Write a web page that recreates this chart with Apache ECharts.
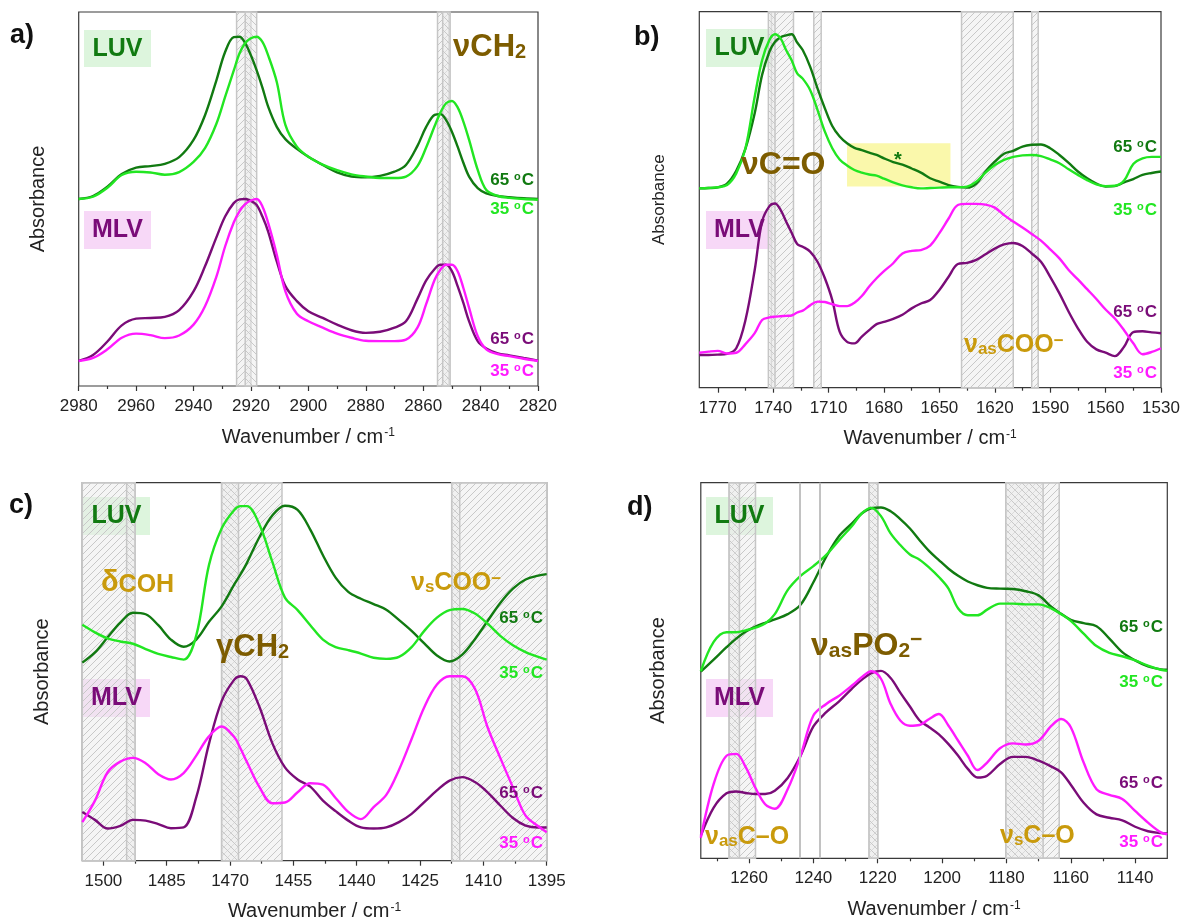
<!DOCTYPE html>
<html>
<head>
<meta charset="utf-8">
<script src="https://cdn.jsdelivr.net/npm/echarts@6.0.0/dist/echarts.min.js"></script>
<style>
  html, body { margin: 0; padding: 0; background: #fff; }
  #chart { width: 1183px; height: 923px; }
</style>
</head>
<body>
<div id="chart"></div>
<script>
// ---- a) CH2 stretching region ----
const waveA = [2980, 2975, 2970, 2965, 2960, 2955, 2950, 2945, 2940, 2936, 2932, 2929, 2926, 2924, 2922, 2920, 2918, 2916, 2914, 2911, 2908, 2904, 2900, 2895, 2890, 2885, 2880, 2875, 2870, 2866, 2862, 2859, 2856, 2854, 2852, 2850, 2848, 2846, 2844, 2841, 2838, 2834, 2830, 2825, 2820];
const luv65A = [50.0, 50.8, 53.3, 56.7, 58.4, 58.8, 59.4, 61.2, 65.8, 72.4, 81.8, 89.3, 93.3, 93.4, 91.7, 88.4, 84.4, 79.8, 74.7, 69.3, 66.0, 63.4, 61.3, 59.1, 57.1, 56.0, 55.8, 56.2, 57.3, 59.1, 64.2, 69.2, 72.5, 72.7, 71.1, 68.0, 64.0, 59.7, 56.0, 52.9, 51.5, 50.8, 50.5, 50.2, 50.0];
const luv35A = [50.0, 50.6, 53.0, 56.4, 57.3, 57.1, 56.5, 57.2, 59.9, 63.6, 70.2, 77.3, 84.3, 88.9, 91.7, 93.0, 93.4, 92.0, 88.4, 81.3, 69.8, 64.0, 61.3, 59.2, 57.7, 56.6, 56.0, 55.6, 55.6, 56.0, 58.8, 63.7, 69.5, 73.1, 75.6, 76.2, 74.5, 70.7, 65.8, 57.8, 52.4, 50.8, 50.3, 50.0, 49.8];
const mlv65A = [6.7, 8.3, 11.9, 16.2, 18.0, 18.2, 18.5, 20.3, 25.3, 32.0, 39.8, 45.3, 48.9, 49.9, 50.0, 49.5, 48.4, 45.3, 41.3, 33.3, 26.7, 22.7, 20.0, 18.2, 16.4, 14.9, 14.2, 14.5, 15.6, 17.3, 23.3, 28.2, 31.3, 32.4, 32.4, 30.7, 26.7, 22.2, 17.3, 12.0, 10.0, 8.7, 8.2, 7.5, 6.8];
const mlv35A = [6.7, 7.5, 9.8, 12.9, 14.0, 13.6, 12.8, 13.5, 16.4, 21.3, 29.3, 37.3, 43.7, 46.7, 48.6, 49.6, 50.0, 48.0, 43.6, 35.1, 25.3, 19.3, 17.3, 15.6, 14.0, 12.9, 12.1, 12.0, 12.0, 12.4, 15.6, 21.8, 28.4, 31.1, 32.4, 32.4, 30.7, 26.2, 20.9, 13.3, 9.8, 8.5, 8.0, 7.3, 6.7];
const ticksA = [2980, 2960, 2940, 2920, 2900, 2880, 2860, 2840, 2820];
const minorA = [2970, 2950, 2930, 2910, 2890, 2870, 2850, 2830];
const bandsA = [[2925, 2920], [2855, 2851]];
const crossA = [[2922, 2918], [2853.2, 2850.6]];

// ---- b) C=O / COO- region ----
const waveB = [1780, 1775, 1770, 1765, 1760, 1755, 1750, 1746, 1742, 1739, 1736, 1733, 1730, 1727, 1724, 1720, 1716, 1712, 1708, 1704, 1700, 1696, 1692, 1688, 1684, 1680, 1675, 1670, 1665, 1660, 1655, 1650, 1645, 1640, 1635, 1630, 1625, 1620, 1615, 1610, 1605, 1600, 1595, 1590, 1585, 1580, 1575, 1570, 1565, 1560, 1555, 1550, 1545, 1540, 1535, 1530];
const luv65B = [53.0, 53.1, 53.3, 54.3, 57.7, 63.6, 73.0, 83.2, 89.4, 92.0, 93.2, 93.7, 94.0, 91.8, 89.8, 85.4, 79.6, 74.3, 69.6, 66.8, 65.0, 63.8, 63.2, 62.5, 61.9, 61.0, 60.0, 59.3, 58.3, 57.2, 55.7, 54.8, 53.9, 53.4, 53.2, 54.3, 57.5, 60.1, 62.2, 63.0, 64.1, 64.6, 64.7, 63.7, 61.9, 59.8, 57.5, 55.7, 54.3, 53.5, 53.6, 54.6, 55.5, 56.6, 57.1, 57.5];
const luv35B = [53.0, 53.1, 53.3, 53.9, 57.0, 63.7, 77.4, 87.1, 92.5, 94.0, 92.9, 89.8, 87.1, 83.6, 82.2, 79.2, 73.9, 68.1, 63.7, 60.7, 59.1, 57.9, 57.2, 56.7, 56.4, 55.6, 54.6, 53.8, 53.3, 53.0, 53.1, 53.2, 53.3, 53.3, 53.5, 54.8, 57.2, 59.2, 60.6, 61.4, 61.8, 61.9, 61.6, 60.7, 59.7, 58.1, 56.6, 55.2, 54.1, 53.6, 53.7, 55.1, 59.5, 61.0, 61.4, 61.4];
const mlv65B = [8.7, 8.7, 8.8, 9.0, 10.5, 18.0, 31.3, 44.2, 48.3, 49.0, 47.3, 44.2, 41.2, 38.2, 37.5, 36.2, 33.5, 29.1, 23.3, 14.9, 12.2, 11.8, 13.6, 15.3, 16.9, 17.5, 18.3, 19.4, 21.1, 22.4, 23.3, 26.0, 29.5, 32.9, 33.2, 34.0, 35.5, 37.0, 38.1, 38.5, 37.7, 35.7, 33.5, 29.5, 25.1, 20.2, 15.8, 12.2, 10.2, 9.3, 8.4, 10.9, 14.8, 15.0, 14.7, 14.5];
const mlv35B = [9.3, 9.6, 9.8, 9.1, 9.3, 11.6, 14.5, 18.0, 18.7, 18.9, 19.0, 19.1, 19.2, 20.0, 20.5, 21.9, 22.9, 22.8, 22.2, 21.7, 21.7, 22.6, 24.4, 26.9, 29.1, 31.0, 33.1, 35.7, 36.4, 36.6, 37.8, 41.1, 45.0, 48.6, 48.9, 48.9, 48.7, 47.9, 45.9, 44.2, 42.6, 40.9, 39.1, 36.8, 34.4, 31.3, 28.8, 26.2, 23.6, 20.8, 18.4, 15.3, 11.8, 8.9, 9.5, 10.5];
const ticksB = [1770, 1740, 1710, 1680, 1650, 1620, 1590, 1560, 1530];
const minorB = [1755, 1725, 1695, 1665, 1635, 1605, 1575, 1545];
const bandsB = [[1741, 1729], [1718, 1714], [1638, 1610], [1600, 1596.5]];
const crossB = [[1742.6, 1739]];
const yellowB = [[1700, 53.5], [1644, 65]];

// ---- c) CH2 bending region ----
const waveC = [1505, 1502, 1499, 1496, 1493, 1490, 1487, 1484, 1481, 1478, 1475, 1472, 1469, 1467.5, 1466, 1463, 1460, 1457, 1454, 1451, 1448, 1445, 1442, 1439, 1436, 1433, 1430, 1427, 1424, 1421, 1418, 1415, 1412, 1409, 1406, 1403, 1400, 1397, 1395];
const luv65C = [52.4, 55.1, 59.1, 63.0, 65.6, 65.2, 62.3, 58.5, 56.6, 58.5, 63.2, 67.3, 73.1, 75.8, 78.8, 85.7, 91.3, 93.9, 92.8, 87.6, 80.8, 74.9, 71.1, 69.3, 67.9, 66.4, 63.7, 60.8, 57.5, 54.3, 52.7, 54.5, 58.6, 63.4, 68.2, 72.0, 74.4, 75.4, 75.8];
const luv35C = [62.4, 60.4, 58.8, 58.0, 57.4, 56.0, 54.7, 53.9, 53.2, 59.6, 78.2, 87.9, 92.8, 93.8, 93.8, 88.8, 79.1, 69.6, 66.3, 62.3, 58.5, 56.5, 55.7, 54.8, 53.7, 53.4, 53.9, 56.5, 60.8, 64.3, 66.3, 66.6, 65.4, 62.7, 59.5, 57.0, 55.2, 53.9, 53.2];
const mlv65C = [12.9, 10.8, 8.5, 9.2, 10.8, 10.6, 9.7, 8.6, 8.8, 16.8, 30.9, 42.2, 47.9, 48.8, 48.0, 40.6, 31.1, 24.7, 21.5, 19.6, 15.9, 13.1, 10.6, 8.8, 8.5, 8.8, 10.2, 12.4, 15.5, 18.6, 21.2, 22.1, 20.8, 18.1, 14.6, 11.3, 9.3, 8.8, 8.8];
const mlv35C = [10.2, 15.9, 23.4, 26.2, 27.2, 25.8, 22.9, 21.5, 23.2, 27.8, 32.9, 35.5, 32.7, 29.6, 26.1, 19.4, 15.2, 15.4, 18.1, 20.5, 20.1, 16.6, 12.9, 11.0, 14.2, 17.4, 24.0, 32.2, 40.6, 46.6, 48.8, 48.8, 45.5, 35.3, 27.2, 19.4, 11.9, 9.1, 7.5];
const ticksC = [1500, 1485, 1470, 1455, 1440, 1425, 1410, 1395];
const minorC = [1492.5, 1477.5, 1462.5, 1447.5, 1432.5, 1417.5, 1402.5];
const bandsC = [[1505, 1492.5], [1472, 1457.7], [1417.5, 1395]];
const crossC = [[1494.5, 1492.5], [1472, 1468], [1417.5, 1415.6]];

// ---- d) phosphate / C-O region ----
const waveD = [1275, 1271, 1267, 1264, 1261, 1258, 1255, 1252, 1248, 1244, 1240, 1236, 1232, 1228, 1225, 1222, 1219, 1216, 1213, 1210, 1207, 1204, 1201, 1198, 1195, 1192, 1189, 1186, 1182, 1178, 1174, 1170, 1166, 1163, 1160, 1156, 1152, 1148, 1144, 1140, 1136, 1132, 1130];
const luv65D = [49.7, 52.9, 56.2, 58.5, 60.4, 61.7, 62.7, 63.6, 65.0, 67.5, 73.5, 80.3, 85.8, 89.2, 91.8, 93.2, 93.4, 92.4, 90.3, 87.8, 84.7, 81.8, 79.4, 77.1, 75.2, 73.7, 72.7, 72.0, 71.8, 71.7, 71.1, 70.0, 66.9, 65.1, 63.5, 62.6, 61.8, 58.5, 54.9, 52.7, 51.1, 50.3, 50.2];
const luv35D = [49.8, 57.6, 60.2, 60.2, 60.7, 61.4, 62.5, 65.0, 71.4, 75.2, 77.8, 80.8, 84.7, 88.5, 91.8, 93.3, 91.1, 86.5, 83.4, 80.9, 79.5, 77.4, 74.9, 71.8, 66.5, 64.7, 64.7, 66.2, 67.8, 67.8, 67.6, 67.6, 66.5, 65.0, 63.2, 59.8, 56.5, 54.7, 53.8, 52.7, 51.3, 50.2, 49.9];
const mlv65D = [6.0, 13.5, 17.3, 17.8, 17.4, 17.1, 17.1, 18.0, 21.4, 27.3, 35.1, 38.9, 41.8, 45.2, 47.5, 49.3, 49.9, 48.0, 44.1, 40.4, 36.7, 34.9, 33.0, 30.4, 27.3, 23.8, 21.5, 22.0, 25.1, 27.0, 27.0, 26.0, 24.4, 22.9, 19.6, 14.8, 11.7, 10.8, 10.1, 8.4, 7.2, 6.7, 6.6];
const mlv35D = [5.5, 19.8, 27.3, 27.8, 24.2, 18.7, 14.4, 13.2, 18.4, 27.3, 38.0, 41.1, 43.3, 46.0, 48.2, 49.8, 47.8, 41.1, 36.7, 35.3, 35.5, 37.1, 38.4, 35.3, 31.3, 27.3, 23.5, 25.5, 29.3, 30.6, 30.3, 31.3, 35.3, 37.1, 34.9, 25.5, 18.4, 16.9, 15.8, 12.6, 9.5, 6.9, 6.4];
const ticksD = [1260, 1240, 1220, 1200, 1180, 1160, 1140];
const minorD = [1270, 1250, 1230, 1210, 1190, 1170, 1150];
const bandsD = [[1266.2, 1258], [1222.7, 1220], [1180.2, 1163.6]];
const crossD = [[1266.2, 1263], [1222.7, 1220], [1180.2, 1168.6]];
const linesD = [1244.2, 1238];

const FONT = '"Liberation Sans", Arial, sans-serif';
const COL = { luv65: '#117a11', luv35: '#22e622', mlv65: '#7a0c78', mlv35: '#ff1aff', brown: '#7d5c00', gold: '#c99a0c' };

// diagonal hatch used for the shaded bands
function hatch(dir) {
  const s = 7;
  const cv = document.createElement('canvas');
  cv.width = cv.height = s;
  const g = cv.getContext('2d');
  g.fillStyle = 'rgba(236,236,236,0.5)';
  g.fillRect(0, 0, s, s);
  g.strokeStyle = '#c8c8c8';
  g.lineWidth = 1;
  g.beginPath();
  if (dir > 0) {
    g.moveTo(0, s); g.lineTo(s, 0);
    g.moveTo(-1, 1); g.lineTo(1, -1);
    g.moveTo(s - 1, s + 1); g.lineTo(s + 1, s - 1);
  } else {
    g.moveTo(0, 0); g.lineTo(s, s);
    g.moveTo(-1, s - 1); g.lineTo(1, s + 1);
    g.moveTo(s - 1, -1); g.lineTo(s + 1, 1);
  }
  g.stroke();
  return { image: cv, repeat: 'repeat' };
}

const panels = [
  { left: 78.7, top: 12, width: 459.3, height: 374, min: 2820, max: 2980, ticks: ticksA, minor: minorA,
    wave: waveA, ys: [luv65A, luv35A, mlv65A, mlv35A], bands: bandsA, cross: crossA, lines: [], yGap: 30, ySize: 20 },
  { left: 699.3, top: 11.7, width: 461.7, height: 376, min: 1530, max: 1780, ticks: ticksB, minor: minorB,
    wave: waveB, ys: [luv65B, luv35B, mlv65B, mlv35B], bands: bandsB, cross: crossB, lines: [], yGap: 31, ySize: 17 },
  { left: 82.3, top: 482.7, width: 464.4, height: 378, min: 1395, max: 1505, ticks: ticksC, minor: minorC,
    wave: waveC, ys: [luv65C, luv35C, mlv65C, mlv35C], bands: bandsC, cross: crossC, lines: [], yGap: 30, ySize: 20 },
  { left: 700.8, top: 482.7, width: 466.5, height: 375.6, min: 1130, max: 1275, ticks: ticksD, minor: minorD,
    wave: waveD, ys: [luv65D, luv35D, mlv65D, mlv35D], bands: bandsD, cross: crossD, lines: linesD, yGap: 32, ySize: 20 }
];

const seriesColors = [COL.luv65, COL.luv35, COL.mlv65, COL.mlv35];
const seriesNames = ['LUV 65 °C', 'LUV 35 °C', 'MLV 65 °C', 'MLV 35 °C'];

function areas(list) {
  return list.map(([a, b]) => [{ xAxis: a }, { xAxis: b }]);
}

const grid = [], xAxis = [], yAxis = [], series = [];

panels.forEach((p, i) => {
  grid.push({ left: p.left, top: p.top, width: p.width, height: p.height, show: true,
    borderColor: '#3a3a3a', borderWidth: 1.2, backgroundColor: 'transparent' });

  xAxis.push({
    gridIndex: i, type: 'value', min: p.min, max: p.max, inverse: true, position: 'bottom',
    axisLine: { show: false }, splitLine: { show: false },
    axisTick: { show: true, customValues: p.ticks, length: 5, lineStyle: { color: '#333', width: 1.2 } },
    axisLabel: { customValues: p.ticks, fontSize: 17, color: '#222', fontFamily: FONT, margin: 12,
      formatter: v => String(v) },
    name: 'Wavenumber / cm{s|-1}', nameLocation: 'middle', nameGap: 41,
    nameTextStyle: { fontSize: 20, color: '#222', fontFamily: FONT,
      rich: { s: { fontSize: 12, color: '#222', fontFamily: FONT, verticalAlign: 'top', padding: [0, 0, 8, 1] } } }
  });
  xAxis.push({
    gridIndex: i, type: 'value', min: p.min, max: p.max, inverse: true, position: 'bottom', offset: 0,
    axisLine: { show: false }, splitLine: { show: false }, axisLabel: { show: false },
    axisTick: { show: true, customValues: p.minor, length: 3, lineStyle: { color: '#333', width: 1.2 } }
  });
  yAxis.push({
    gridIndex: i, type: 'value', min: 0, max: 100,
    axisLine: { show: false }, axisTick: { show: false }, axisLabel: { show: false }, splitLine: { show: false },
    name: 'Absorbance', nameLocation: 'middle', nameGap: p.yGap,
    nameTextStyle: { fontSize: p.ySize, color: '#222', fontFamily: FONT }
  });

  const band = {
    type: 'line', xAxisIndex: 2 * i, yAxisIndex: i, data: [], silent: true, z: 1,
    markArea: { silent: true, itemStyle: { color: hatch(1), borderColor: '#c6c6c6', borderWidth: 1.5 },
      data: areas(p.bands) }
  };
  if (p.lines.length) {
    band.markLine = { silent: true, symbol: 'none', label: { show: false },
      lineStyle: { color: '#c2c2c2', width: 2, type: 'solid' },
      data: p.lines.map(v => ({ xAxis: v })) };
  }
  series.push(band);
  series.push({
    type: 'line', xAxisIndex: 2 * i, yAxisIndex: i, data: [], silent: true, z: 1,
    markArea: { silent: true, itemStyle: { color: hatch(-1), borderColor: '#c6c6c6', borderWidth: 1.5 },
      data: areas(p.cross) }
  });
  if (i === 1) {
    series.push({
      type: 'line', xAxisIndex: 2, yAxisIndex: 1, data: [], silent: true, z: 1,
      markArea: { silent: true, itemStyle: { color: 'rgba(249,246,150,0.8)' },
        data: [[{ xAxis: yellowB[0][0], yAxis: yellowB[0][1] }, { xAxis: yellowB[1][0], yAxis: yellowB[1][1] }]] }
    });
  }

  p.ys.forEach((ys, k) => {
    series.push({
      name: seriesNames[k], type: 'line', xAxisIndex: 2 * i, yAxisIndex: i, z: 3,
      data: p.wave.map((w, j) => [w, ys[j]]),
      smooth: 0.35, showSymbol: false, silent: true,
      lineStyle: { color: seriesColors[k], width: 2.4 }
    });
  });
});

// ---- annotations ----
function box(x, y, w, h, fill) {
  return { type: 'rect', shape: { x, y, width: w, height: h }, style: { fill }, z: 0, silent: true };
}
function label(x, y, text, color, size, align, rich) {
  return { type: 'text', x, y, z: 10, silent: true,
    style: { text, fill: color, fontSize: size, fontWeight: 'bold', fontFamily: FONT,
      align: align || 'left', verticalAlign: 'middle', rich: rich || {} } };
}
function temp(x, y, t, color) {
  return label(x, y, t + ' {o|o}C', color, 17, 'right',
    { o: { fontSize: 11, fontWeight: 'bold', fontFamily: FONT, fill: color, verticalAlign: 'top', padding: [0, 1, 0, 0] } });
}
function chem(x, y, parts, color, size) {
  // parts: [text, kind] with kind '' normal, 'sub', 'sup', 'small'
  const small = Math.round(size * 0.66);
  const rich = {
    m: { fontSize: size, fontWeight: 'bold', fontFamily: FONT, fill: color, verticalAlign: 'middle' },
    b: { fontSize: small, fontWeight: 'bold', fontFamily: FONT, fill: color, verticalAlign: 'bottom' },
    t: { fontSize: small, fontWeight: 'bold', fontFamily: FONT, fill: color, verticalAlign: 'top' },
    k: { fontSize: Math.round(size * 0.85), fontWeight: 'bold', fontFamily: FONT, fill: color, verticalAlign: 'middle', padding: [4, 0, 0, 0] }
  };
  const key = { sub: 'b', sup: 't', small: 'k' };
  const text = parts.map(([s, k]) => '{' + (key[k] || 'm') + '|' + s + '}').join('');
  return label(x, y, text, color, size, 'left', rich);
}

const graphics = [
  // panel letters
  label(10, 36, 'a)', '#111', 27), label(634, 38, 'b)', '#111', 27),
  label(9, 506, 'c)', '#111', 27), label(627, 508, 'd)', '#111', 27),
  // LUV / MLV tags
  box(84, 30, 67, 37, '#ddf5dd'), label(117.5, 49, 'LUV', COL.luv65, 25, 'center'),
  box(84, 211, 67, 38, '#f7d8f7'), label(117.5, 230, 'MLV', COL.mlv65, 25, 'center'),
  box(706, 29, 67, 38, '#ddf5dd'), label(739.5, 48, 'LUV', COL.luv65, 25, 'center'),
  box(706, 211, 67, 38, '#f7d8f7'), label(739.5, 230, 'MLV', COL.mlv65, 25, 'center'),
  box(83, 497, 67, 38, '#ddf5dd'), label(116.5, 516, 'LUV', COL.luv65, 25, 'center'),
  box(83, 679, 67, 38, '#f7d8f7'), label(116.5, 698, 'MLV', COL.mlv65, 25, 'center'),
  box(706, 497, 67, 38, '#ddf5dd'), label(739.5, 516, 'LUV', COL.luv65, 25, 'center'),
  box(706, 679, 67, 38, '#f7d8f7'), label(739.5, 698, 'MLV', COL.mlv65, 25, 'center'),
  // temperatures
  temp(534, 180, '65', COL.luv65), temp(534, 209, '35', COL.luv35),
  temp(534, 339, '65', COL.mlv65), temp(534, 371, '35', COL.mlv35),
  temp(1157, 147, '65', COL.luv65), temp(1157, 210, '35', COL.luv35),
  temp(1157, 312, '65', COL.mlv65), temp(1157, 373, '35', COL.mlv35),
  temp(543, 618, '65', COL.luv65), temp(543, 673, '35', COL.luv35),
  temp(543, 793, '65', COL.mlv65), temp(543, 843, '35', COL.mlv35),
  temp(1163, 627, '65', COL.luv65), temp(1163, 682, '35', COL.luv35),
  temp(1163, 783, '65', COL.mlv65), temp(1163, 842, '35', COL.mlv35),
  // band assignments
  chem(453, 47, [['νCH', ''], ['2', 'sub']], COL.brown, 31),
  chem(741, 165, [['νC=O', '']], COL.brown, 32),
  label(898, 160, '*', COL.luv65, 20, 'center'),
  chem(964, 345, [['ν', ''], ['as', 'sub'], ['COO', ''], ['−', 'sup']], COL.gold, 25),
  chem(101, 583, [['δ', ''], ['COH', 'small']], COL.gold, 29),
  chem(216, 647, [['γCH', ''], ['2', 'sub']], COL.brown, 31),
  chem(411, 583, [['ν', ''], ['s', 'sub'], ['COO', ''], ['−', 'sup']], COL.gold, 25),
  chem(811, 646, [['ν', ''], ['as', 'sub'], ['PO', ''], ['2', 'sub'], ['−', 'sup']], COL.brown, 32),
  chem(705, 837, [['ν', ''], ['as', 'sub'], ['C–O', '']], COL.gold, 25),
  chem(1000, 836, [['ν', ''], ['s', 'sub'], ['C–O', '']], COL.gold, 25)
];

const chart = echarts.init(document.getElementById('chart'));
chart.setOption({
  animation: false,
  backgroundColor: '#fff',
  grid, xAxis, yAxis, series,
  graphic: graphics
});
</script>
</body>
</html>
